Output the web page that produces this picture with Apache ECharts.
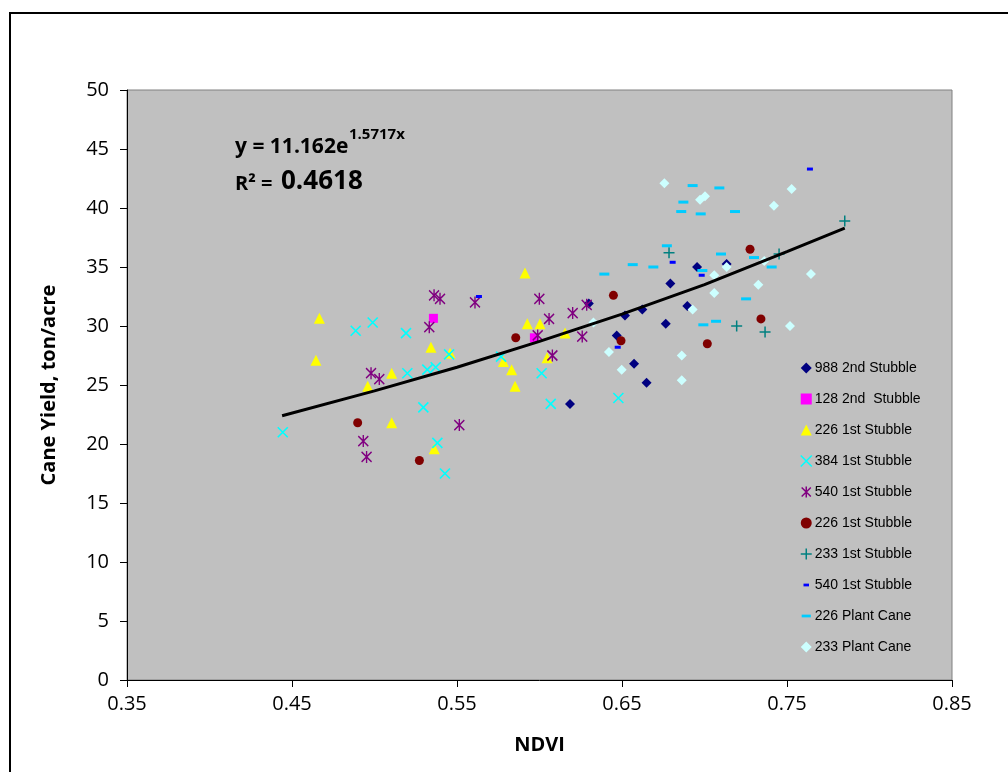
<!DOCTYPE html>
<html>
<head>
<meta charset="utf-8">
<script src="https://cdn.jsdelivr.net/npm/echarts/dist/echarts.min.js"></script>
<style>
html, body { margin: 0; padding: 0; background: #fff; }
#chart { width: 1008px; height: 772px; }
</style>
</head>
<body>
<div id="chart"></div>
<script>
// [NDVI, yield] pairs
var s988_2nd = [[0.6185,23.4],[0.6299,31.9],[0.6518,30.9],[0.6623,31.4],[0.6468,29.2],[0.6573,26.8],[0.6649,25.2],[0.6793,33.6],[0.6765,30.2],[0.6896,31.7],[0.6955,35.0],[0.7134,35.25]];
var s128_2nd = [[0.5357,30.65],[0.5969,29.0]];
var s226_1st = [[0.4666,30.65],[0.4645,27.1],[0.5104,26.0],[0.4959,24.9],[0.5104,21.8],[0.5342,28.2],[0.5458,27.7],[0.5362,19.6],[0.5926,30.2],[0.6003,30.2],[0.6155,29.4],[0.5781,27.0],[0.5831,26.3],[0.5852,24.9],[0.6046,27.3],[0.5912,34.5]];
var s384_1st = [[0.4444,21.0],[0.4886,29.6],[0.4989,30.3],[0.5191,29.4],[0.5199,26.0],[0.5320,26.3],[0.5371,26.5],[0.5452,27.6],[0.5296,23.1],[0.5381,20.1],[0.5427,17.5],[0.5767,27.4],[0.6013,26.0],[0.6068,23.4],[0.6478,23.9]];
var s540_1st = [[0.5361,32.6],[0.5397,32.3],[0.5332,29.9],[0.4979,26.0],[0.5029,25.5],[0.5514,21.6],[0.4932,20.25],[0.4952,18.9],[0.5609,32.0],[0.5999,32.3],[0.6058,30.6],[0.6201,31.1],[0.6286,31.8],[0.5989,29.2],[0.6259,29.1],[0.6078,27.5]];
var s226_1st_b = [[0.4898,21.8],[0.5272,18.6],[0.5856,29.0],[0.6448,32.6],[0.6494,28.75],[0.7017,28.5],[0.7276,36.5],[0.7342,30.6]];
var s233_1st = [[0.6785,36.2],[0.7195,30.0],[0.7367,29.5],[0.7452,36.1],[0.7850,38.9]];
var s540_1st_b = [[0.5633,32.5],[0.6474,28.2],[0.6807,35.4],[0.6983,34.3],[0.7639,43.3]];
var s226_pc = [[0.6928,41.9],[0.7090,41.7],[0.6872,40.5],[0.6859,39.7],[0.6977,39.5],[0.7185,39.7],[0.6772,36.8],[0.7100,36.1],[0.7300,35.8],[0.7407,35.0],[0.6565,35.2],[0.6690,35.0],[0.6393,34.4],[0.6987,34.7],[0.7252,32.3],[0.6993,30.1],[0.7070,30.4]];
var s233_pc = [[0.6757,42.1],[0.6973,40.7],[0.7003,41.0],[0.7528,41.6],[0.7421,40.2],[0.7134,35.0],[0.7059,34.3],[0.7059,32.8],[0.7326,33.5],[0.7362,35.5],[0.6928,31.4],[0.7518,30.0],[0.6421,27.8],[0.6498,26.3],[0.6862,27.5],[0.6862,25.4],[0.7645,34.4],[0.6327,30.3]];

// trendline as it sits on the picture
var trendX = [0.444, 0.50, 0.55, 0.60, 0.65, 0.70, 0.75, 0.785];
var trendY = [22.4, 24.5, 26.5, 28.7, 31.0, 33.5, 36.3, 38.3];

var names = ['988 2nd Stubble', '128 2nd  Stubble', '226 1st Stubble', '384 1st Stubble', '540 1st Stubble',
             '226 1st Stubble\u200b', '233 1st Stubble', '540 1st Stubble\u200b', '226 Plant Cane', '233 Plant Cane'];

var chart = echarts.init(document.getElementById('chart'));

var xMark = 'path://M-5,-5L5,5M5,-5L-5,5';
var starMark = 'path://M-5,-5L5,5M5,-5L-5,5M0,-6L0,6';
var plusMark = 'path://M-6,0L6,0M0,-6L0,6';
var smallDash = 'path://M-6,-6M6,6M-3,-1.5L3,-1.5L3,1.5L-3,1.5Z';
var wideDash = 'path://M-6,-6M6,6M-5,-1.5L5,-1.5L5,1.5L-5,1.5Z';

function pts(name, data, symbol, size, style) {
    style.opacity = 1;
    return {
        name: name,
        type: 'scatter',
        data: data,
        symbol: symbol,
        symbolSize: size,
        itemStyle: style,
        emphasis: { disabled: true }
    };
}

var trend = trendX.map(function (x, i) { return [x, trendY[i]]; });

var option = {
    animation: false,
    backgroundColor: '#fff',
    grid: {
        left: 127, top: 90, width: 825, height: 590,
        show: true, backgroundColor: '#C0C0C0', borderColor: '#808080', borderWidth: 1,
        outerBoundsMode: 'none'
    },
    xAxis: {
        type: 'value', min: 0.35, max: 0.85, interval: 0.1,
        name: 'NDVI', nameLocation: 'middle', nameGap: 55,
        nameTextStyle: { fontFamily: 'Open Sans', fontWeight: 'bold', fontSize: 20, color: '#000' },
        axisLine: { show: true, lineStyle: { color: '#000', width: 1 } },
        axisTick: { show: true, length: 7, lineStyle: { color: '#000' } },
        axisLabel: { margin: 14, fontFamily: 'Open Sans', fontSize: 20, color: '#000',
            formatter: function (v) { return v.toFixed(2); } },
        splitLine: { show: false }
    },
    yAxis: {
        type: 'value', min: 0, max: 50, interval: 5,
        name: 'Cane Yield, ton/acre', nameLocation: 'middle', nameGap: 68,
        nameTextStyle: { fontFamily: 'Open Sans', fontWeight: 'bold', fontSize: 20, color: '#000' },
        axisLine: { show: true, lineStyle: { color: '#000', width: 1 } },
        axisTick: { show: true, length: 7, lineStyle: { color: '#000' } },
        axisLabel: { margin: 18, fontFamily: 'Open Sans', fontSize: 20, color: '#000' },
        splitLine: { show: false }
    },
    legend: {
        orient: 'vertical', left: 795, top: 356,
        itemWidth: 11, itemHeight: 11, itemGap: 17, itemStyle: { borderWidth: 1.5 },
        textStyle: { fontFamily: 'Liberation Sans', fontSize: 14, color: '#000', padding: [0, 0, 0, -2] },
        selectedMode: false,
        data: [
            { name: names[0], icon: 'diamond' },
            { name: names[1], icon: 'rect' },
            { name: names[2], icon: 'triangle' },
            { name: names[3] },
            { name: names[4] },
            { name: names[5], icon: 'circle' },
            { name: names[6] },
            { name: names[7], icon: smallDash },
            { name: names[8], icon: wideDash },
            { name: names[9], icon: 'diamond' }
        ]
    },
    graphic: [
        { type: 'rect', silent: true, shape: { x: 10, y: 13, width: 1100, height: 900 },
          style: { fill: 'none', stroke: '#000', lineWidth: 2 } },
        { type: 'text', silent: true, x: 235, y: 147,
          style: { text: 'y = 11.162e', font: 'bold 21px "Open Sans"', fill: '#000', verticalAlign: 'middle' } },
        { type: 'text', silent: true, x: 349, y: 135,
          style: { text: '1.5717x', font: 'bold 15px "Open Sans"', fill: '#000', verticalAlign: 'middle' } },
        { type: 'text', silent: true, x: 235, y: 184,
          style: { text: 'R² =', font: 'bold 20px "Open Sans"', fill: '#000', verticalAlign: 'middle' } },
        { type: 'text', silent: true, x: 281, y: 182,
          style: { text: '0.4618', font: 'bold 26px "Open Sans"', fill: '#000', verticalAlign: 'middle' } }
    ],
    series: [
        pts(names[0], s988_2nd, 'diamond', 10, { color: '#000080' }),
        pts(names[1], s128_2nd, 'rect', 9, { color: '#FF00FF' }),
        pts(names[2], s226_1st, 'triangle', 11, { color: '#FFFF00' }),
        pts(names[3], s384_1st, xMark, 10, { color: 'transparent', borderColor: '#00FFFF', borderWidth: 1.6 }),
        pts(names[4], s540_1st, starMark, [10, 12], { color: 'transparent', borderColor: '#800080', borderWidth: 1.5 }),
        pts(names[5], s226_1st_b, 'circle', 9, { color: '#800000' }),
        pts(names[6], s233_1st, plusMark, 11, { color: 'transparent', borderColor: '#008080', borderWidth: 1.5 }),
        pts(names[7], s540_1st_b, 'rect', [6, 3], { color: '#0000FF' }),
        pts(names[8], s226_pc, 'rect', [10, 3], { color: '#00CCFF' }),
        pts(names[9], s233_pc, 'diamond', 10, { color: '#CCFFFF' }),
        {
            type: 'line', data: trend, showSymbol: false, symbol: 'none', silent: true,
            lineStyle: { color: '#000', width: 3 }, z: 3
        }
    ]
};

chart.setOption(option);
</script>
</body>
</html>
